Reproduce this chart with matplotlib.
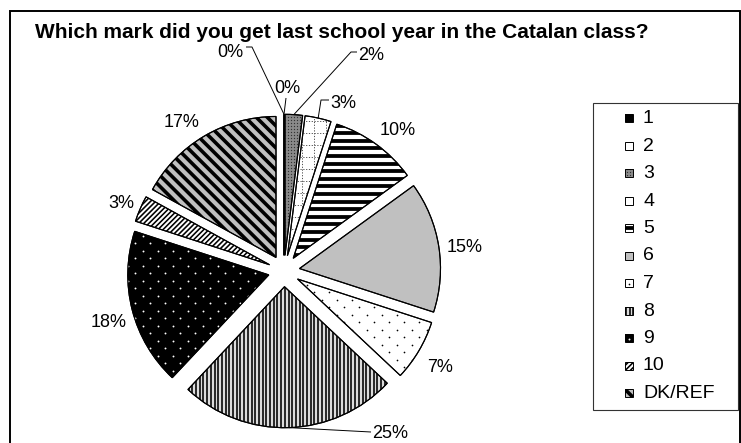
import numpy as np
import matplotlib
matplotlib.use("Agg")
import matplotlib.pyplot as plt
from matplotlib.patches import Wedge, Rectangle
from matplotlib.collections import LineCollection

plt.rcParams['font.family'] = ['Liberation Sans', 'DejaVu Sans']

# ---- data -------------------------------------------------------------
marks = ['1', '2', '3', '4', '5', '6', '7', '8', '9', '10', 'DK/REF']
shares = [0, 0, 2, 3, 10, 15, 7, 25, 18, 3, 17]
title = 'Which mark did you get last school year in the Catalan class?'

# ---- layout (pixel units, origin top-left) ----------------------------
W, H = 741, 443
PT = 72 / 100            # points per pixel at 100 dpi
pie_center = (284, 271)
pie_radius = 141
pie_explode = 15.7

# label placement: (centre x, baseline y)
label_pos = [(230, 57), (287, 93), (371, 60), (343, 108), (398, 135),
             (465, 252), (440, 372), (390, 438), (109, 327), (121, 208),
             (182, 127)]
# leader elbows from the label towards its slice
leaders = {0: [(246, 47), (252, 47)],
           1: [(286, 98)],
           2: [(357, 52), (351, 52)],
           3: [(329, 100), (321, 100)],
           7: [(371, 432)]}

# fill styles per mark
styles = [
    dict(face='black'),
    dict(face='white'),
    dict(face='#8a8a8a', dots=dict(step=3.0, row=3.0, size=1.3, color='#333333', stagger=False)),
    dict(face='white', grid=dict(step=12, color='#555555')),
    dict(face='white', stripes=dict(angle=0, step=7.6, width=3.8, color='black')),
    dict(face='#c0c0c0'),
    dict(face='white', dots=dict(step=15, row=7.5, size=1.7, color='black', stagger=True)),
    dict(face='#dcdcdc', stripes=dict(angle=90, step=3.7, width=1.6, color='black')),
    dict(face='black', dots=dict(step=15, row=7.5, size=1.9, color='white', stagger=True)),
    dict(face='white', stripes=dict(angle=45, step=3.6, width=1.6, color='black')),
    dict(face='#c0c0c0', stripes=dict(angle=-45, step=7.8, width=3.6, color='black')),
]


def px(x, y):
    """top-left pixel position -> data position"""
    return (x, H - y)


fig = plt.figure(figsize=(W / 100, H / 100), dpi=100, facecolor='white')
ax = fig.add_axes([0, 0, 1, 1])


def fill_pattern(patch, st, origin, extent):
    ox, oy = origin
    if 'stripes' in st:
        s = st['stripes']
        a = np.deg2rad(s['angle'])
        d = np.array([np.cos(a), np.sin(a)])
        n = np.array([-d[1], d[0]])
        ks = np.arange(-extent, extent + s['step'], s['step'])
        segs = [[(ox + n[0] * k - d[0] * extent, oy + n[1] * k - d[1] * extent),
                 (ox + n[0] * k + d[0] * extent, oy + n[1] * k + d[1] * extent)] for k in ks]
        lc = LineCollection(segs, colors=s['color'], linewidths=s['width'] * PT,
                            zorder=2, capstyle='butt')
        ax.add_collection(lc)
        lc.set_clip_path(patch)
    if 'grid' in st:
        g = st['grid']
        ks = np.arange(-extent, extent + g['step'], g['step'])
        segs = [[(ox + k, oy - extent), (ox + k, oy + extent)] for k in ks]
        segs += [[(ox - extent, oy + k), (ox + extent, oy + k)] for k in ks]
        lc = LineCollection(segs, colors=g['color'], linewidths=1.0 * PT,
                            linestyles=[(0, (1.2, 1.6))], zorder=2)
        ax.add_collection(lc)
        lc.set_clip_path(patch)
    if 'dots' in st:
        s = st['dots']
        xs, ys = [], []
        rows = np.arange(-extent, extent + s['row'], s['row'])
        for j, yv in enumerate(rows):
            shift = s['step'] / 2 if (s['stagger'] and j % 2) else 0
            for xv in np.arange(-extent, extent + s['step'], s['step']):
                xs.append(ox + xv + shift)
                ys.append(oy + yv)
        ln, = ax.plot(xs, ys, 'o', ms=s['size'] * PT, mfc=s['color'], mec='none',
                      ls='none', zorder=2)
        ln.set_clip_path(patch)


# ---- pie --------------------------------------------------------------
wedges, _ = ax.pie(shares, colors=[s['face'] for s in styles], startangle=90,
                   counterclock=False, explode=[pie_explode] * len(shares),
                   radius=pie_radius, center=px(*pie_center),
                   wedgeprops=dict(edgecolor='black', linewidth=0.8))

for w, st, v in zip(wedges, styles, shares):
    if v > 0:
        fill_pattern(w, st, w.center, w.r)
    ax.add_patch(Wedge(w.center, w.r, w.theta1, w.theta2, facecolor='none',
                       edgecolor='black', linewidth=0.8, zorder=3))

# ---- value labels and leaders -----------------------------------------
for i, (w, v) in enumerate(zip(wedges, shares)):
    lx, ly = label_pos[i]
    ax.text(*px(lx, ly), f'{v}%', fontsize=13, ha='center', va='baseline', zorder=5)
    if i in leaders:
        tm = np.deg2rad((w.theta1 + w.theta2) / 2)
        anchor = (w.center[0] + w.r * np.cos(tm), w.center[1] + w.r * np.sin(tm))
        pts = [px(*p) for p in leaders[i]] + [anchor]
        ax.plot([p[0] for p in pts], [p[1] for p in pts], color='black',
                lw=0.7, zorder=4, solid_capstyle='butt')

# ---- legend -----------------------------------------------------------
ax.add_patch(Rectangle(px(593, 410), 145, 307, facecolor='white',
                       edgecolor='#333333', linewidth=0.8, zorder=1))
for i, (m, st) in enumerate(zip(marks, styles)):
    base = 123 + 27.5 * i
    sq = Rectangle(px(625, base - 1), 8, 8, facecolor=st['face'], edgecolor='none', zorder=2)
    ax.add_patch(sq)
    fill_pattern(sq, st, (629, H - base + 5), 8)
    ax.add_patch(Rectangle(px(625, base - 1), 8, 8, facecolor='none',
                           edgecolor='black', linewidth=0.7, zorder=3))
    ax.text(*px(643, base), m, fontsize=14, ha='left', va='baseline', zorder=3)

# ---- title and chart frame --------------------------------------------
ax.text(*px(35, 38), title, fontsize=15, fontweight='bold', ha='left', va='baseline')
ax.add_patch(Rectangle(px(10, 447), 729.5, 436, facecolor='none',
                       edgecolor='black', linewidth=1.4, zorder=6))

ax.set_xlim(0, W)
ax.set_ylim(0, H)
ax.set_aspect('auto')
ax.axis('off')

fig.savefig('out.png', dpi=100, facecolor='white')
